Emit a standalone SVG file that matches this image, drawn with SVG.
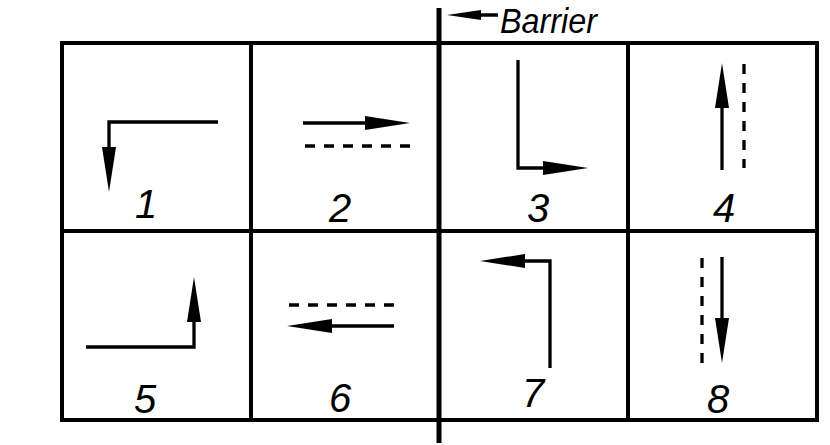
<svg xmlns="http://www.w3.org/2000/svg" width="830" height="445" viewBox="0 0 830 445">
<style>
.grid{fill:none;stroke:#000;stroke-width:4}
.path{fill:none;stroke:#000;stroke-width:3.3;stroke-linejoin:miter}
.dash{fill:none;stroke:#000;stroke-width:3.3;stroke-dasharray:10 9}
.num{font-family:"Liberation Sans",Arial,sans-serif;font-style:italic;font-size:40px;text-anchor:middle;fill:#000}
.lbl{font-family:"Liberation Sans",Arial,sans-serif;font-style:italic;font-size:35px;fill:#000}
</style>
<defs>
<marker id="ah" viewBox="0 0 45 14" refX="25" refY="7" markerWidth="45" markerHeight="14" markerUnits="userSpaceOnUse" orient="auto">
<path d="M0,0 L45,7 L0,14 Z" fill="#000"/>
</marker>
<marker id="ahs" viewBox="0 0 34 10" refX="20" refY="5" markerWidth="34" markerHeight="10" markerUnits="userSpaceOnUse" orient="auto">
<path d="M0,0 L34,5 L0,10 Z" fill="#000"/>
</marker>
</defs>
<g id="grid">
<rect class="grid" x="62" y="43" width="755" height="377"/>
<line class="grid" x1="62" y1="231" x2="817" y2="231"/>
<line class="grid" x1="251" y1="43" x2="251" y2="420"/>
<line class="grid" x1="628" y1="43" x2="628" y2="420"/>
</g>
<g id="barrier">
<line x1="439" y1="8" x2="439" y2="443" stroke="#000" stroke-width="5"/>
<text class="lbl" x="500" y="33" textLength="97" lengthAdjust="spacingAndGlyphs">Barrier</text>
</g>
<g id="connectors">
<path class="path" d="M498,15 L461,15" stroke-width="2.5" marker-end="url(#ahs)"/>
<path class="path" d="M218,122 L109,122 L109,172" marker-end="url(#ah)"/>
<path class="path" d="M303,123 L390,123" marker-end="url(#ah)"/>
<path class="path" d="M518,60 L518,168 L568,168" marker-end="url(#ah)"/>
<path class="path" d="M722,170 L722,83" marker-end="url(#ah)"/>
<path class="path" d="M86,347 L194,347 L194,297" marker-end="url(#ah)"/>
<path class="path" d="M394,326 L307,326" marker-end="url(#ah)"/>
<path class="path" d="M550,368 L550,261 L500,261" marker-end="url(#ah)"/>
<path class="path" d="M722,257 L722,343" marker-end="url(#ah)"/>
</g>
<g id="cell1"><text class="num" x="146" y="218">1</text></g>
<g id="cell2"><line class="dash" x1="305" y1="146" x2="410" y2="146"/><text class="num" x="340" y="222">2</text></g>
<g id="cell3"><text class="num" x="538" y="222">3</text></g>
<g id="cell4"><line class="dash" x1="744" y1="64" x2="744" y2="168"/><text class="num" x="724" y="222">4</text></g>
<g id="cell5"><text class="num" x="145" y="413">5</text></g>
<g id="cell6"><line class="dash" x1="289" y1="305" x2="394" y2="305"/><text class="num" x="340" y="412">6</text></g>
<g id="cell7"><text class="num" x="533" y="407">7</text></g>
<g id="cell8"><line class="dash" x1="702" y1="258" x2="702" y2="363"/><text class="num" x="718" y="413">8</text></g>
</svg>
